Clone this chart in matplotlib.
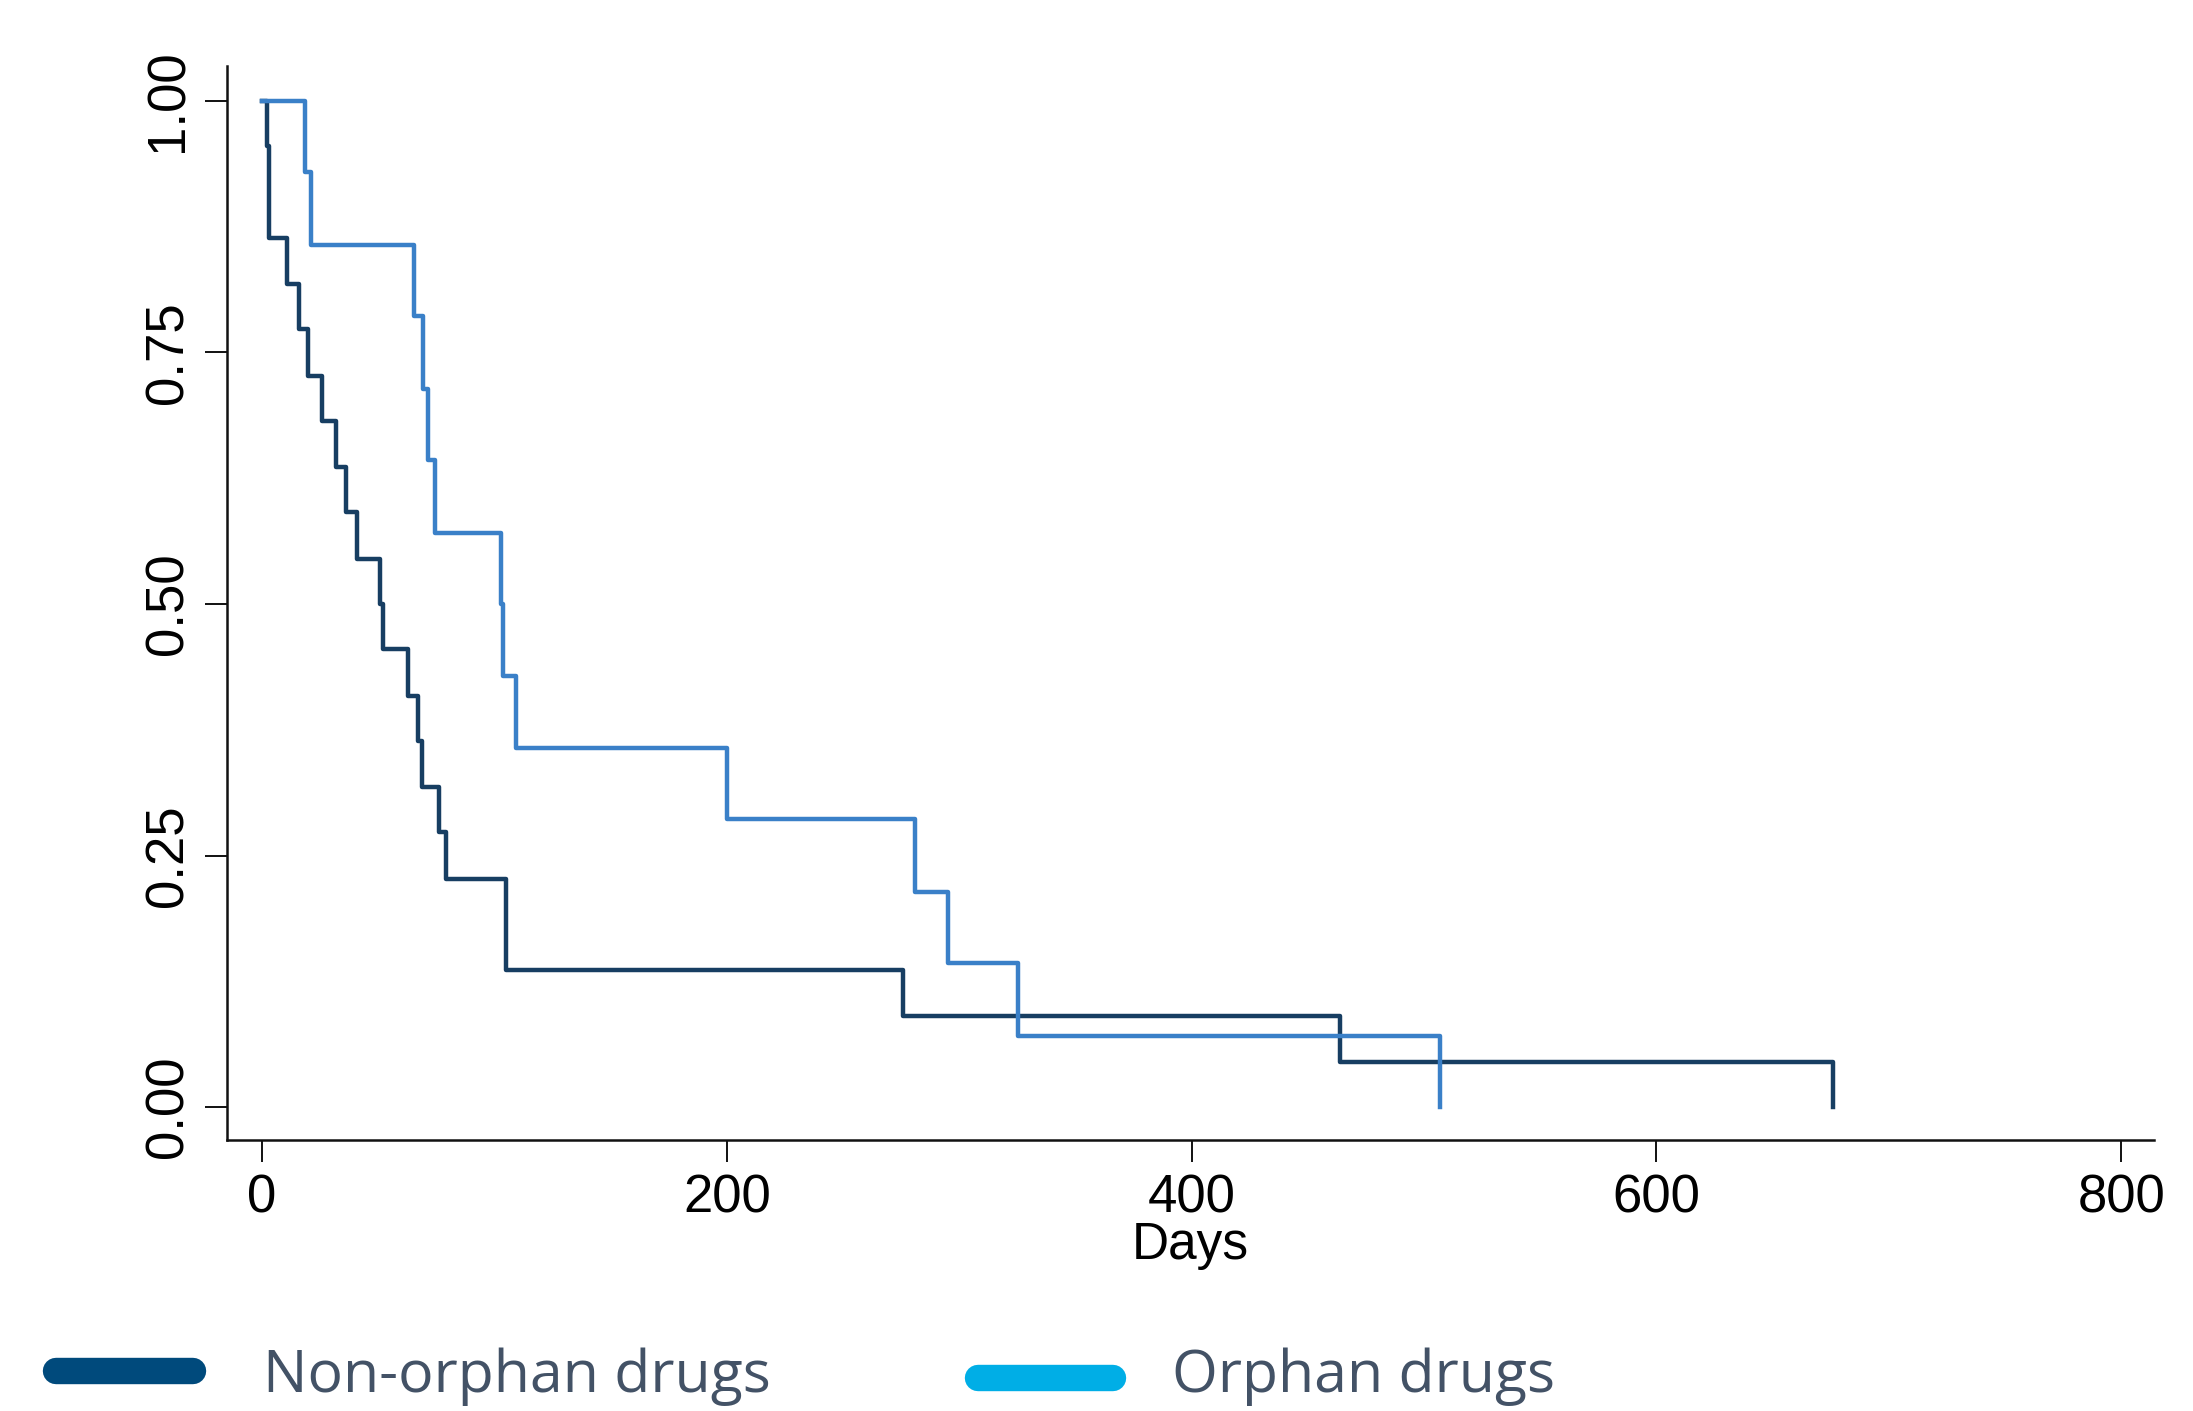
import matplotlib
matplotlib.use("Agg")
import matplotlib.pyplot as plt
from matplotlib.lines import Line2D

# Kaplan-Meier steps (days, survival after the drop)
non_orphan_days = [0, 2, 3, 11, 16, 20, 26, 32, 36, 41, 51, 52, 63, 67, 69, 76, 79, 105, 276, 464, 676]
non_orphan_surv = [1.0, 0.955, 0.864, 0.818, 0.773, 0.727, 0.682, 0.636, 0.591, 0.545,
                   0.5, 0.455, 0.409, 0.364, 0.318, 0.273, 0.227, 0.136, 0.091, 0.045, 0.0]

orphan_days = [0, 18.5, 21, 65.5, 69.5, 71.5, 74.5, 103, 103.6, 109.5, 200, 281, 295, 325.5, 507]
orphan_surv = [1.0, 0.929, 0.857, 0.786, 0.714, 0.643, 0.571, 0.5, 0.429, 0.357,
               0.286, 0.214, 0.143, 0.071, 0.0]

x_ticks = [0, 200, 400, 600, 800]
y_ticks = [0.0, 0.25, 0.50, 0.75, 1.0]
y_labels = ["0.00", "0.25", "0.50", "0.75", "1.00"]

legend_labels = ["Non-orphan drugs", "Orphan drugs"]
legend_colors = ["#004a7c", "#00aee6"]
line_colors = ["#173e62", "#3a80c8"]

W, H = 2193, 1411
fig = plt.figure(figsize=(W / 100, H / 100), dpi=100)
ax = fig.add_axes([227.3 / W, 1 - 1140 / H, (2153.8 - 227.3) / W, (1140 - 65.7) / H])

ax.step(non_orphan_days, non_orphan_surv, where="post", color=line_colors[0], lw=3.2)
ax.step(orphan_days, orphan_surv, where="post", color=line_colors[1], lw=3.2)

ax.set_xlim(-14.9, 814)
ax.set_ylim(-0.0326, 1.035)

ax.spines["top"].set_visible(False)
ax.spines["right"].set_visible(False)
for s in ["left", "bottom"]:
    ax.spines[s].set_linewidth(1.8)
    ax.spines[s].set_color("#111111")

ax.set_xticks(x_ticks)
ax.set_yticks(y_ticks)
ax.set_yticklabels(y_labels, rotation=90, va="center")
ax.tick_params(axis="both", length=16, width=1.4, color="#111111",
               labelsize=38, pad=8, labelcolor="#000000")
for lab in ax.get_xticklabels() + ax.get_yticklabels():
    lab.set_family("Liberation Sans")

ax.set_xlabel("Days", fontsize=37, family="Liberation Sans", labelpad=-2)

# legend under the plot
handle_y = [1 - 1370.6 / H, 1 - 1377.6 / H]
handle_x = [(55.5, 192.5), (978.5, 1112.5)]
text_x = [263, 1172]
for i in range(2):
    x0, x1 = handle_x[i]
    fig.add_artist(Line2D([x0 / W, x1 / W], [handle_y[i], handle_y[i]],
                          color=legend_colors[i], lw=19, solid_capstyle="round",
                          transform=fig.transFigure))
    fig.text(text_x[i] / W, 1 - 1391.7 / H, legend_labels[i], fontsize=42.5,
             family="Open Sans", color="#435266", va="baseline", ha="left")

fig.savefig("out.png", dpi=100, facecolor="white")
